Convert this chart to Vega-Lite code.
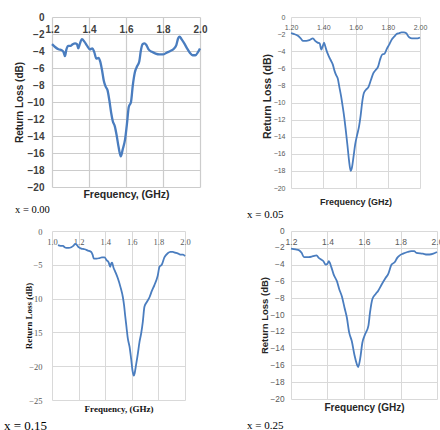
{
  "$schema": "https://vega.github.io/schema/vega-lite/v6.json",
  "autosize": {"type": "none"},
  "padding": {"left": 52, "top": 17, "right": 388, "bottom": 413},
  "background": "white",
  "columns": 2,
  "spacing": {"row": 43, "column": 91},
  "bounds": "flush",
  "config": {"view": {"stroke": null}},
  "datasets": {
    "a": [
      {"f":1.200,"db":-3.2},{"f":1.215,"db":-3.5},{"f":1.235,"db":-3.8},{"f":1.252,"db":-3.9},{"f":1.262,"db":-4.1},{"f":1.270,"db":-4.6},{"f":1.278,"db":-3.8},{"f":1.288,"db":-3.4},{"f":1.300,"db":-3.4},{"f":1.312,"db":-3.2},{"f":1.325,"db":-3.1},{"f":1.335,"db":-3.2},{"f":1.342,"db":-3.7},{"f":1.350,"db":-3.2},{"f":1.362,"db":-2.6},{"f":1.375,"db":-2.9},{"f":1.390,"db":-3.4},{"f":1.405,"db":-3.8},{"f":1.418,"db":-3.7},{"f":1.428,"db":-4.1},{"f":1.440,"db":-4.9},{"f":1.452,"db":-4.8},{"f":1.460,"db":-5.2},{"f":1.470,"db":-6.2},{"f":1.480,"db":-7.5},{"f":1.490,"db":-8.2},{"f":1.500,"db":-8.6},{"f":1.510,"db":-9.8},{"f":1.520,"db":-11.3},{"f":1.528,"db":-12.2},{"f":1.540,"db":-12.9},{"f":1.550,"db":-14.0},{"f":1.560,"db":-15.3},{"f":1.572,"db":-16.4},{"f":1.582,"db":-15.6},{"f":1.595,"db":-14.4},{"f":1.605,"db":-12.6},{"f":1.615,"db":-10.6},{"f":1.627,"db":-10.0},{"f":1.637,"db":-8.0},{"f":1.648,"db":-6.5},{"f":1.660,"db":-5.8},{"f":1.672,"db":-5.2},{"f":1.680,"db":-4.0},{"f":1.690,"db":-3.2},{"f":1.700,"db":-3.1},{"f":1.710,"db":-3.3},{"f":1.722,"db":-3.8},{"f":1.740,"db":-4.1},{"f":1.760,"db":-4.3},{"f":1.780,"db":-4.4},{"f":1.800,"db":-4.4},{"f":1.820,"db":-4.2},{"f":1.840,"db":-4.0},{"f":1.860,"db":-3.7},{"f":1.872,"db":-3.3},{"f":1.882,"db":-2.5},{"f":1.890,"db":-2.3},{"f":1.900,"db":-2.6},{"f":1.915,"db":-3.1},{"f":1.930,"db":-3.7},{"f":1.945,"db":-4.2},{"f":1.960,"db":-4.5},{"f":1.975,"db":-4.5},{"f":1.990,"db":-4.1},{"f":2.000,"db":-3.7}
    ],
    "b": [
      {"f":1.200,"db":-1.9},{"f":1.220,"db":-2.0},{"f":1.243,"db":-2.2},{"f":1.260,"db":-2.5},{"f":1.275,"db":-2.8},{"f":1.295,"db":-2.8},{"f":1.315,"db":-2.7},{"f":1.336,"db":-2.5},{"f":1.350,"db":-2.8},{"f":1.365,"db":-3.0},{"f":1.378,"db":-3.1},{"f":1.388,"db":-3.8},{"f":1.397,"db":-3.4},{"f":1.405,"db":-3.0},{"f":1.412,"db":-3.4},{"f":1.420,"db":-3.9},{"f":1.432,"db":-4.5},{"f":1.445,"db":-5.0},{"f":1.460,"db":-5.6},{"f":1.470,"db":-6.3},{"f":1.480,"db":-6.8},{"f":1.490,"db":-7.2},{"f":1.500,"db":-8.2},{"f":1.510,"db":-9.2},{"f":1.520,"db":-10.4},{"f":1.530,"db":-11.7},{"f":1.540,"db":-13.3},{"f":1.550,"db":-15.0},{"f":1.560,"db":-16.8},{"f":1.570,"db":-18.0},{"f":1.578,"db":-17.6},{"f":1.588,"db":-16.3},{"f":1.598,"db":-14.9},{"f":1.610,"db":-13.8},{"f":1.622,"db":-12.8},{"f":1.632,"db":-11.5},{"f":1.642,"db":-9.9},{"f":1.652,"db":-8.9},{"f":1.665,"db":-8.5},{"f":1.680,"db":-8.2},{"f":1.695,"db":-7.4},{"f":1.710,"db":-6.6},{"f":1.725,"db":-6.2},{"f":1.740,"db":-5.8},{"f":1.752,"db":-5.0},{"f":1.765,"db":-4.4},{"f":1.780,"db":-4.3},{"f":1.795,"db":-3.7},{"f":1.810,"db":-3.2},{"f":1.826,"db":-2.6},{"f":1.840,"db":-2.3},{"f":1.855,"db":-2.0},{"f":1.870,"db":-1.9},{"f":1.885,"db":-1.8},{"f":1.900,"db":-1.8},{"f":1.915,"db":-1.9},{"f":1.925,"db":-2.2},{"f":1.935,"db":-2.4},{"f":1.950,"db":-2.5},{"f":1.970,"db":-2.5},{"f":1.985,"db":-2.5},{"f":2.000,"db":-2.4}
    ],
    "c": [
      {"f":1.045,"db":-2.1},{"f":1.065,"db":-2.2},{"f":1.083,"db":-2.2},{"f":1.095,"db":-2.4},{"f":1.108,"db":-2.5},{"f":1.125,"db":-2.5},{"f":1.145,"db":-2.4},{"f":1.160,"db":-2.2},{"f":1.175,"db":-1.9},{"f":1.188,"db":-2.1},{"f":1.200,"db":-2.4},{"f":1.220,"db":-2.6},{"f":1.245,"db":-2.7},{"f":1.270,"db":-2.9},{"f":1.295,"db":-3.1},{"f":1.305,"db":-3.5},{"f":1.315,"db":-4.1},{"f":1.335,"db":-4.1},{"f":1.358,"db":-4.0},{"f":1.375,"db":-3.9},{"f":1.395,"db":-3.9},{"f":1.410,"db":-4.3},{"f":1.425,"db":-4.6},{"f":1.438,"db":-5.3},{"f":1.445,"db":-4.8},{"f":1.452,"db":-4.7},{"f":1.462,"db":-5.4},{"f":1.475,"db":-6.0},{"f":1.495,"db":-7.0},{"f":1.515,"db":-8.3},{"f":1.533,"db":-9.8},{"f":1.542,"db":-11.0},{"f":1.550,"db":-12.5},{"f":1.560,"db":-14.2},{"f":1.570,"db":-15.9},{"f":1.583,"db":-17.1},{"f":1.595,"db":-18.9},{"f":1.605,"db":-20.6},{"f":1.615,"db":-21.4},{"f":1.622,"db":-21.0},{"f":1.632,"db":-19.8},{"f":1.645,"db":-18.2},{"f":1.658,"db":-16.4},{"f":1.670,"db":-15.2},{"f":1.683,"db":-13.4},{"f":1.695,"db":-11.2},{"f":1.713,"db":-10.5},{"f":1.733,"db":-9.8},{"f":1.750,"db":-8.9},{"f":1.770,"db":-8.0},{"f":1.795,"db":-6.6},{"f":1.808,"db":-5.3},{"f":1.825,"db":-5.0},{"f":1.845,"db":-3.9},{"f":1.870,"db":-3.3},{"f":1.890,"db":-3.1},{"f":1.908,"db":-3.1},{"f":1.925,"db":-3.2},{"f":1.945,"db":-3.3},{"f":1.970,"db":-3.5},{"f":1.985,"db":-3.5},{"f":2.000,"db":-3.7}
    ],
    "d": [
      {"f":1.200,"db":-2.1},{"f":1.225,"db":-2.2},{"f":1.245,"db":-2.3},{"f":1.258,"db":-2.6},{"f":1.271,"db":-3.1},{"f":1.298,"db":-3.1},{"f":1.320,"db":-3.0},{"f":1.340,"db":-2.9},{"f":1.352,"db":-3.2},{"f":1.365,"db":-3.4},{"f":1.378,"db":-3.6},{"f":1.390,"db":-4.0},{"f":1.400,"db":-3.9},{"f":1.407,"db":-3.6},{"f":1.421,"db":-4.3},{"f":1.434,"db":-5.2},{"f":1.452,"db":-6.0},{"f":1.464,"db":-6.9},{"f":1.479,"db":-7.8},{"f":1.493,"db":-9.1},{"f":1.506,"db":-10.3},{"f":1.519,"db":-12.1},{"f":1.533,"db":-13.1},{"f":1.548,"db":-14.8},{"f":1.560,"db":-15.8},{"f":1.568,"db":-16.2},{"f":1.579,"db":-15.2},{"f":1.591,"db":-13.3},{"f":1.606,"db":-12.3},{"f":1.624,"db":-11.3},{"f":1.633,"db":-9.7},{"f":1.646,"db":-8.1},{"f":1.664,"db":-7.5},{"f":1.678,"db":-7.1},{"f":1.696,"db":-6.4},{"f":1.718,"db":-5.6},{"f":1.733,"db":-5.1},{"f":1.751,"db":-4.0},{"f":1.769,"db":-3.7},{"f":1.782,"db":-3.2},{"f":1.796,"db":-2.9},{"f":1.814,"db":-2.7},{"f":1.838,"db":-2.5},{"f":1.859,"db":-2.4},{"f":1.875,"db":-2.4},{"f":1.887,"db":-2.6},{"f":1.923,"db":-2.7},{"f":1.945,"db":-2.8},{"f":1.959,"db":-2.8},{"f":1.980,"db":-2.7},{"f":2.000,"db":-2.5}
    ]
  },
  "concat": [
    {
      "data": {"name": "a"},
      "width": 148,
      "height": 170,
      "title": {"text": "x = 0.00", "orient": "bottom", "anchor": "start", "frame": "group", "dx": -37, "offset": 5, "font": "Liberation Serif", "fontSize": 10.5, "fontWeight": "normal", "color": "#000000"},
      "mark": {"type": "line", "color": "#4a7dbf", "strokeWidth": 2.3, "interpolate": "monotone"},
      "encoding": {
        "x": {"field": "f", "type": "quantitative", "scale": {"domain": [1.2, 2.0], "nice": false, "zero": false},
          "axis": {"orient": "top", "values": [1.2, 1.4, 1.6, 1.8, 2.0], "format": ".1f", "ticks": false, "domain": false, "labelPadding": -12, "labelBaseline": "middle", "labelFlush": false, "labelOverlap": false, "labelFont": "Liberation Sans", "labelFontSize": 10, "labelFontWeight": "bold", "labelColor": "#404040", "gridColor": "#cccccc", "gridWidth": 1.2,
            "title": "Frequency, (GHz)", "titleY": 177, "titleBaseline": "middle", "titleFont": "Liberation Sans", "titleFontSize": 10.5, "titleFontWeight": "bold", "titleColor": "#262626"}},
        "y": {"field": "db", "type": "quantitative", "scale": {"domain": [-20, 0], "nice": false},
          "axis": {"values": [0, -2, -4, -6, -8, -10, -12, -14, -16, -18, -20], "ticks": false, "domain": false, "labelPadding": 8, "labelFont": "Liberation Sans", "labelFontSize": 10, "labelFontWeight": "bold", "labelColor": "#404040", "gridColor": "#cccccc", "gridWidth": 1.2,
            "title": "Return Loss (dB)", "titleX": -33, "titleBaseline": "middle", "titleFont": "Liberation Sans", "titleFontSize": 10, "titleFontWeight": "bold", "titleColor": "#262626"}}
      }
    },
    {
      "data": {"name": "b"},
      "width": 129,
      "height": 171,
      "title": {"text": "x = 0.05", "orient": "bottom", "anchor": "start", "frame": "group", "dx": -44, "offset": 3, "font": "Liberation Serif", "fontSize": 11, "fontWeight": "normal", "color": "#000000"},
      "mark": {"type": "line", "color": "#4a7dbf", "strokeWidth": 1.8, "interpolate": "monotone"},
      "encoding": {
        "x": {"field": "f", "type": "quantitative", "scale": {"domain": [1.2, 2.0], "nice": false, "zero": false},
          "axis": {"orient": "top", "values": [1.2, 1.4, 1.6, 1.8, 2.0], "format": ".2f", "ticks": false, "domain": false, "labelPadding": -10, "labelBaseline": "middle", "labelFlush": false, "labelOverlap": false, "labelFont": "Liberation Sans", "labelFontSize": 7, "labelColor": "#595959", "gridColor": "#d9d9d9",
            "title": "Frequency (GHz)", "titleY": 184, "titleBaseline": "middle", "titleFont": "Liberation Sans", "titleFontSize": 9, "titleFontWeight": "bold", "titleColor": "#262626"}},
        "y": {"field": "db", "type": "quantitative", "scale": {"domain": [-20, 0], "nice": false},
          "axis": {"values": [0, -2, -4, -6, -8, -10, -12, -14, -16, -18, -20], "ticks": false, "domain": false, "labelPadding": 6, "labelFont": "Liberation Sans", "labelFontSize": 7, "labelColor": "#595959", "gridColor": "#d9d9d9",
            "title": "Return Loss (dB)", "titleX": -24, "titleY": 79, "titleBaseline": "middle", "titleFont": "Liberation Sans", "titleFontSize": 10.5, "titleFontWeight": "bold", "titleColor": "#262626"}}
      }
    },
    {
      "data": {"name": "c"},
      "width": 133,
      "height": 169,
      "title": {"text": "x = 0.15", "orient": "bottom", "anchor": "start", "frame": "group", "dx": -48, "offset": 7, "font": "Liberation Serif", "fontSize": 13, "fontWeight": "normal", "color": "#000000"},
      "mark": {"type": "line", "color": "#4a7dbf", "strokeWidth": 1.8, "interpolate": "monotone"},
      "encoding": {
        "x": {"field": "f", "type": "quantitative", "scale": {"domain": [1.0, 2.0], "nice": false, "zero": false},
          "axis": {"orient": "top", "values": [1.0, 1.2, 1.4, 1.6, 1.8, 2.0], "format": ".1f", "ticks": false, "domain": false, "labelPadding": -10.5, "labelBaseline": "middle", "labelFlush": false, "labelOverlap": false, "labelFont": "Liberation Serif", "labelFontSize": 8.5, "labelColor": "#595959", "gridColor": "#d9d9d9",
            "title": "Frequency, (GHz)", "titleY": 177, "titleBaseline": "middle", "titleFont": "Liberation Serif", "titleFontSize": 9, "titleFontWeight": "bold", "titleColor": "#111111"}},
        "y": {"field": "db", "type": "quantitative", "scale": {"domain": [-25, 0], "nice": false},
          "axis": {"values": [0, -5, -10, -15, -20, -25], "ticks": false, "domain": false, "labelPadding": 10, "labelFont": "Liberation Serif", "labelFontSize": 8.5, "labelColor": "#595959", "gridColor": "#d9d9d9",
            "title": "Return Loss (dB)", "titleX": -24, "titleBaseline": "middle", "titleFont": "Liberation Serif", "titleFontSize": 9, "titleFontWeight": "bold", "titleColor": "#111111"}}
      }
    },
    {
      "data": {"name": "d"},
      "width": 146,
      "height": 168,
      "title": {"text": "x = 0.25", "orient": "bottom", "anchor": "start", "frame": "group", "dx": -44, "offset": 8, "font": "Liberation Serif", "fontSize": 11, "fontWeight": "normal", "color": "#000000"},
      "mark": {"type": "line", "color": "#4a7dbf", "strokeWidth": 1.8, "interpolate": "monotone"},
      "encoding": {
        "x": {"field": "f", "type": "quantitative", "scale": {"domain": [1.2, 2.0], "nice": false, "zero": false},
          "axis": {"orient": "top", "values": [1.2, 1.4, 1.6, 1.8, 2.0], "format": ".1f", "ticks": false, "domain": false, "labelPadding": -10.5, "labelBaseline": "middle", "labelFlush": false, "labelOverlap": false, "labelFont": "Liberation Sans", "labelFontSize": 8.5, "labelColor": "#595959", "gridColor": "#d9d9d9",
            "title": "Frequency (GHz)", "titleY": 176, "titleBaseline": "middle", "titleFont": "Liberation Sans", "titleFontSize": 10, "titleFontWeight": "bold", "titleColor": "#262626"}},
        "y": {"field": "db", "type": "quantitative", "scale": {"domain": [-20, 0], "nice": false},
          "axis": {"values": [0, -2, -4, -6, -8, -10, -12, -14, -16, -18, -20], "ticks": false, "domain": false, "labelPadding": 7, "labelFont": "Liberation Sans", "labelFontSize": 8.3, "labelColor": "#595959", "gridColor": "#d9d9d9",
            "title": "Return Loss (dB)", "titleX": -27, "titleBaseline": "middle", "titleFont": "Liberation Sans", "titleFontSize": 9.5, "titleFontWeight": "bold", "titleColor": "#262626"}}
      }
    }
  ]
}
